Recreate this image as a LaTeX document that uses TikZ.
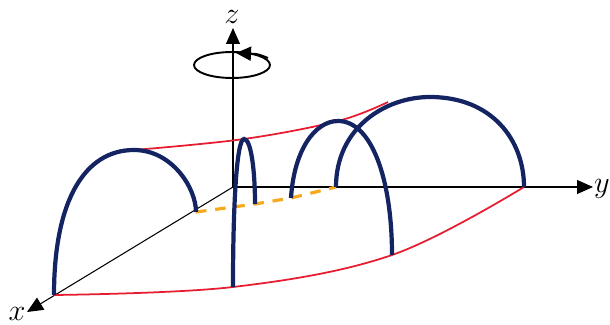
\documentclass[tikz,border=0pt]{standalone}
\usepackage{amsmath,amssymb}
\usepackage{xcolor}
\usetikzlibrary{arrows.meta,calc}
\definecolor{archblue}{RGB}{20,36,98}
\definecolor{rimred}{RGB}{232,28,48}
\definecolor{baseorange}{RGB}{245,170,30}

\begin{document}
\begin{tikzpicture}[
          x=0.02cm, y=-0.02cm,
          every node/.style={font=\LARGE},
          axis/.style={draw, line width=0.6pt, -{Triangle[length=3.2mm, width=2.8mm]}},
          arch/.style={draw=archblue, line width=2.4pt},
          rim/.style={draw=rimred, line width=1pt},
          base/.style={draw=baseorange, line width=1.8pt, dash pattern=on 6pt off 5pt}
      ]
        \useasboundingbox (0,0) rectangle (610,325);
        % axes
        \coordinate (o) at (233,187);
        \node (zl) at (232,17) {$z$};
        \node (yl) at (602,189) {$y$};
        \node (xl) at (17,314) {$x$};
        \draw[axis] (o) -- (233,28);
        \draw[axis] (o) -- (593,187);
        \draw[axis] (o) -- (27,312);
        % rotation about z
        \coordinate (rc) at (232,65);
        \draw[line width=1.1pt] (rc) ellipse [x radius=0.76cm, y radius=0.26cm];
        \draw[line width=1.1pt, -{Triangle[length=3mm, width=2.8mm]}] (268,58) .. controls (258,54) .. (236,53);
        % arch end points
        \coordinate (a1s) at (54,295);  \coordinate (a1t) at (134,150); \coordinate (a1e) at (196,212);
        \coordinate (a2s) at (233,287); \coordinate (a2t) at (244,139); \coordinate (a2e) at (255,204);
        \coordinate (a3s) at (291,198); \coordinate (a3t) at (338,121); \coordinate (a3e) at (392,255);
        \coordinate (a4s) at (336,187); \coordinate (a4t) at (430,97);  \coordinate (a4e) at (524,187);
        \coordinate (rimend) at (388,102);
        % rims and base line
        \draw[rim] plot[smooth, tension=0.6] coordinates {(a1s) (a2s) (a3e) (a4e)};
        \draw[rim] plot[smooth, tension=0.6] coordinates {(a1t) (a2t) (a3t) (rimend)};
        \draw[base] (a1e) -- (a2e) -- (a3s) -- (a4s);
        % arches
        \draw[arch] (a1s) .. controls (54,200) and (85,150) .. (a1t) .. controls (172,150) and (196,188) .. (a1e);
        \draw[arch] (a2s) .. controls (233,200) and (237,139) .. (a2t) .. controls (251,139) and (255,170) .. (a2e);
        \draw[arch] (a3s) .. controls (294,150) and (315,121) .. (a3t) .. controls (372,121) and (392,180) .. (a3e);
        \draw[arch] (a4s) .. controls (336,128) and (385,97) .. (a4t) .. controls (492,97) and (524,140) .. (a4e);
      \end{tikzpicture}
\end{document}
